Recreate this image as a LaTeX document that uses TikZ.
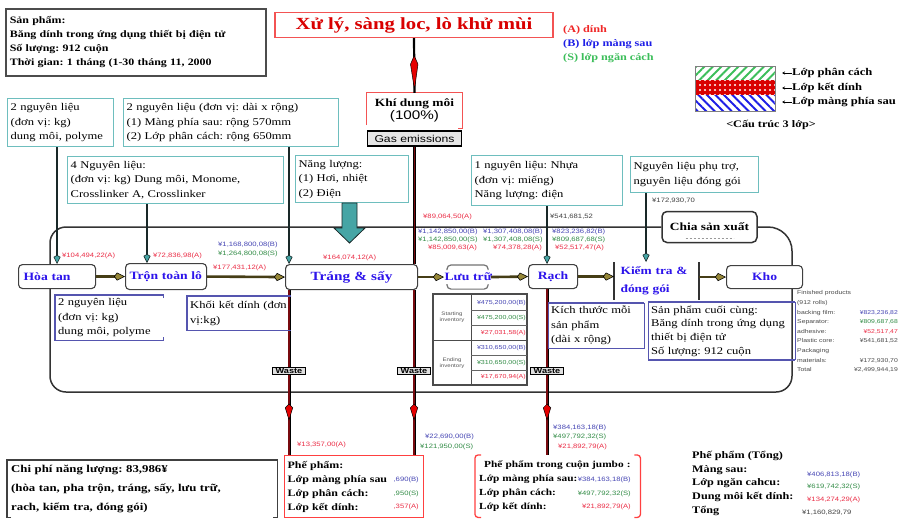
\documentclass[tikz,border=0pt]{standalone}
\usepackage{fontspec}
\setmainfont{Liberation Serif}[FakeStretch=1.22]
\newfontfamily\sansf{Liberation Sans}[FakeStretch=1.22]
\usetikzlibrary{arrows.meta,patterns.meta,calc,decorations.markings}
\pgfdeclarelayer{bg}
\pgfsetlayers{bg,main}
\definecolor{tealb}{RGB}{110,190,190}
\definecolor{numred}{RGB}{235,45,70}
\definecolor{numblue}{RGB}{70,70,180}
\definecolor{numgreen}{RGB}{50,140,70}
\definecolor{procblue}{RGB}{45,20,235}
\definecolor{olivea}{RGB}{150,135,55}
\definecolor{oliveline}{RGB}{70,62,22}
\definecolor{maroonw}{RGB}{120,10,15}
\definecolor{tealarrow}{RGB}{70,165,165}
\definecolor{darkline}{RGB}{25,40,40}
\definecolor{boxblue}{RGB}{85,85,175}
\definecolor{legred}{RGB}{240,40,40}
\definecolor{legblue}{RGB}{30,30,230}
\definecolor{leggreen}{RGB}{60,190,90}
\newcommand\mbx[1]{\mbox{#1}}
\frenchspacing
\begin{document}
\begin{tikzpicture}[x=1pt,y=-1pt,
  numr/.style={font=\sansf\fontsize{6.3}{7}\selectfont, text=numred, inner sep=0pt, anchor=west},
  numb/.style={numr, text=numblue},
  numg/.style={numr, text=numgreen},
  numk/.style={numr, text=black!75},
  inbox/.style={draw=tealb, line width=1.3pt, fill=white, anchor=north west, align=left, inner xsep=3pt, inner ysep=2pt, font=\fontsize{10.3}{14.5}\selectfont},
  plainbox/.style={anchor=north west, align=left, inner xsep=3pt, inner ysep=2pt, font=\fontsize{10.3}{14.5}\selectfont},
  proc/.style={draw=black!75, line width=1.1pt, rounded corners=4pt, fill=white, font=\bfseries\fontsize{11.2}{13}\selectfont, text=procblue, anchor=north west, align=left, inner xsep=5pt, inner ysep=0pt},
  mainarr/.style={line width=2.6pt, draw=oliveline, -{Kite[length=11pt,width=8pt,inset=3pt,fill=olivea,color=black,line width=0.6pt]}},
  inarr/.style={line width=2.8pt, draw=darkline, -{Kite[length=9pt,width=7pt,inset=2pt,fill=tealarrow,color=darkline,line width=0.6pt]}},
  wasteln/.style={draw=black, line width=3pt, postaction={draw=maroonw, line width=1.5pt}},
  wastebox/.style={draw=black, line width=1pt, fill=black!12, font=\sansf\bfseries\fontsize{7.5}{8}\selectfont, inner xsep=1.5pt, inner ysep=1.2pt, minimum width=33pt},
  loopln/.style={draw=black!80, line width=1.5pt},
  redkite/.tip={Kite[length=17pt,width=8pt,inset=4pt,fill=red!90!black,color=black,line width=0.5pt]},
  titlekite/.tip={Kite[length=36pt,width=8pt,inset=9pt,fill=red!90!black,color=black,line width=0.5pt]},
  redmark/.style={postaction={decorate}, decoration={markings, mark=at position #1 with {\arrow{redkite}}}},
  titlemark/.style={postaction={decorate}, decoration={markings, mark=at position #1 with {\arrow{titlekite}}}},
]
\useasboundingbox (0,0) rectangle (904,525);

% ---------- header ----------
\node[draw=black!70, line width=1.6pt, anchor=north west, text width=252pt, minimum height=67pt, inner xsep=4pt, align=left, font=\bfseries\fontsize{9.8}{14}\selectfont] (prod) at (5,8)
 {Sản phẩm:\\Băng dính trong ứng dụng thiết bị điện tử\\Số lượng: 912 cuộn\\Thời gian: 1 tháng (1-30 tháng 11, 2000};

\node[draw=legred!80, line width=1.1pt, minimum width=278pt, minimum height=25pt, inner sep=0pt, font=\bfseries\fontsize{17}{20}\selectfont, text=red!85!black] (title) at (414,25) {Xử lý, sàng loc, lò khử mùi};

\node[anchor=west, inner sep=0pt, font=\bfseries\fontsize{10}{11}\selectfont, text=legred] (legA) at (563,30) {(A) dính};
\node[anchor=west, inner sep=0pt, font=\bfseries\fontsize{10}{11}\selectfont, text=legblue] (legB) at (563,44) {(B) lớp màng sau};
\node[anchor=west, inner sep=0pt, font=\bfseries\fontsize{10}{11}\selectfont, text=leggreen] (legC) at (563,58) {(S) lớp ngăn cách};

% layer structure
\fill[white] (695,66) rectangle (775,80);
\fill[pattern={Lines[angle=45,distance=6pt,line width=2pt]}, pattern color=leggreen] (695,66) rectangle (775,80);
\fill[red!85!black] (695,80) rectangle (775,95);
\fill[pattern={Dots[radius=1.1pt,distance=5pt]}, pattern color=white] (695,80) rectangle (775,95);
\fill[white] (695,95) rectangle (775,111);
\fill[pattern={Lines[angle=-45,distance=6pt,line width=2pt]}, pattern color=legblue] (695,95) rectangle (775,111);
\draw[black!50, line width=1pt] (695,66) rectangle (775,111);
\node[anchor=west, inner sep=0pt, font=\bfseries\fontsize{10.3}{11}\selectfont] (lyA) at (792,73) {Lớp phân cách};
\node[anchor=west, inner sep=0pt, font=\bfseries\fontsize{10.3}{11}\selectfont] (lyB) at (792,88) {Lớp kết dính};
\node[anchor=west, inner sep=0pt, font=\bfseries\fontsize{10.3}{11}\selectfont] (lyC) at (792,102) {Lớp màng phía sau};
\foreach \n in {lyA,lyB,lyC}{\draw[line width=0.5pt, -{Stealth[length=3pt,width=3pt]}] (\n.west) -- ++(-10,0);}
\node[inner sep=0pt, font=\bfseries\fontsize{10}{11}\selectfont] (struct) at (771,125) {<Cấu trúc 3 lớp>};

% ---------- gas ----------
\node[minimum width=95pt, minimum height=35pt, inner sep=0pt, align=center] (khi) at (414.5,110.5)
 {{\bfseries\fontsize{11}{12}\selectfont Khí dung môi}\\[1pt]{\sansf\fontsize{12.5}{14}\selectfont (100\%)}};
\draw[legred!80, line width=1.1pt] ($(khi.south west)+(0,-3)$) -- (khi.north west) -- (khi.north east) -- (khi.south east) -- ++(-4,0);
\node[draw=black, line width=1.2pt, fill=black!10, minimum width=94pt, minimum height=15pt, inner sep=0pt, font=\sansf\fontsize{10}{11}\selectfont] (gas) at (414.5,138.5) {Gas emissions};
\draw[line width=2.2pt, black, titlemark=0.97] (title.south) -- (khi.north);

% ---------- input boxes ----------
\node[inbox, text width=100pt, minimum height=48pt] (inA) at (7,98) {2 nguyên liệu\\(đơn vị: kg)\\dung môi, polyme};
\node[inbox, text width=209pt, minimum height=48pt] (inB) at (123,98) {2 nguyên liệu (đơn vị: dài x rộng)\\(1) Màng phía sau: rộng 570mm\\(2) Lớp phân cách: rộng 650mm};
\node[inbox, text width=210pt, minimum height=47pt] (inC) at (67,156) {4 Nguyên liệu:\\(đơn vị: kg) Dung môi, Monome,\\Crosslinker A, Crosslinker};
\node[inbox, text width=107pt, minimum height=47pt] (inD) at (295,155) {Năng lượng:\\(1) Hơi, nhiệt\\(2) Điện};
\node[inbox, text width=145pt, minimum height=50pt] (inE) at (471,155) {1 nguyên liệu: Nhựa\\(đơn vị: miếng)\\Năng lượng: điện};
\node[inbox, text width=122pt, minimum height=36pt] (inF) at (630,156) {\mbx{Nguyên liệu phụ trợ,}\\\mbx{nguyên liệu đóng gói}};
\filldraw[fill=tealarrow, draw=darkline, line width=0.8pt] (342,203) -- (357,203) -- (357,228) -- (365,228) -- (349.5,243) -- (334,228) -- (342,228) -- cycle;

% ---------- process row ----------
\node[proc, text width=67pt, minimum height=24pt] (hoa) at (18,264) {Hòa tan};
\node[proc, text width=73pt, minimum height=26pt, inner xsep=4pt] (tron) at (125,263) {Trộn toàn lô};
\node[proc, text width=122pt, minimum height=25pt, align=center, font=\bfseries\fontsize{12.5}{14}\selectfont] (trang) at (285,264) {Tráng \& sấy};
\node[proc, draw=none, text width=46pt, minimum height=23pt, inner xsep=0pt, align=center] (luu) at (444,265) {\mbx{Lưu trữ}};
\node[proc, text width=39pt, minimum height=24pt, align=center] (rach) at (528,264) {Rạch};
\node[proc, draw=none, fill=none, text width=72pt, minimum height=37pt, inner xsep=6pt, font=\bfseries\fontsize{11}{18}\selectfont] (kiem) at (614,262) {Kiểm tra \&\\đóng gói};
\node[proc, text width=66pt, minimum height=23pt, align=center] (kho) at (726,265) {Kho};
\node[draw=black!80, line width=1.5pt, rounded corners=5pt, fill=white, minimum width=95pt, minimum height=31pt, inner sep=0pt, font=\bfseries\fontsize{11}{12}\selectfont] (chia) at (709.5,227) {Chia sản xuất};
\draw[black!40, line width=1pt, dash pattern=on 2pt off 2pt] ($(chia.south)+(-24,-5)$) -- ($(chia.south)+(24,-5)$);

\draw[black!80, line width=1.4pt] (kiem.north west) -- (kiem.south west);
\draw[black!80, line width=1.4pt] (kiem.north east) -- (kiem.south east);
\draw[black!55, line width=1.2pt, rounded corners=4pt] ($(luu.north west)+(3,5)$) -- ($(luu.north west)+(3,0)$) -- ($(luu.north east)+(-3,0)$) -- ($(luu.north east)+(-3,5)$);
\draw[black!55, line width=1.2pt, rounded corners=4pt] ($(luu.south west)+(3,-5)$) -- ($(luu.south west)+(3,0)$) -- ($(luu.south east)+(-3,0)$) -- ($(luu.south east)+(-3,-5)$);

% ---------- boxes under the row ----------
\node[plainbox, minimum width=108pt, minimum height=45pt, text width=102pt] (bG) at (55,295) {2 nguyên liệu\\(đơn vị: kg)\\dung môi, polyme};
\draw[boxblue, line width=1.1pt] ($(bG.north east)+(0,3)$) -- (bG.north east) -- (bG.north west) -- (bG.south west) -- (bG.south east) -- ($(bG.south east)+(0,-3)$);
\node[plainbox, minimum width=104pt, minimum height=34pt, text width=98pt] (bH) at (187,296) {\mbx{Khối kết dính (đơn}\\vị:kg)};
\draw[boxblue, line width=1.1pt] (bH.north east) -- (bH.north west) -- (bH.south west) -- (bH.south east);
\node[plainbox, minimum width=96pt, minimum height=45pt, text width=90pt] (bI) at (548,303) {\mbx{Kích thước mỗi}\\sản phẩm\\(dài x rộng)};
\draw[boxblue, line width=1pt] (bI.north east) -- (bI.south east) -- (bI.south west) -- (bI.north west);
\draw[boxblue, line width=2pt] (bI.north west) -- (bI.north east);
\node[plainbox, minimum width=147pt, minimum height=58pt, text width=141pt, font=\fontsize{10.3}{13.7}\selectfont] (bJ) at (648,302) {\mbx{Sản phẩm cuối cùng:}\\\mbx{Băng dính trong ứng dụng}\\thiết bị điện tử\\Số lượng: 912 cuộn};
\draw[boxblue, line width=0.8pt] (bJ.north west) -- (bJ.south west);
\draw[boxblue, line width=0.8pt] (bJ.north east) -- (bJ.south east);
\draw[boxblue, line width=2pt] (bJ.north west) -- (bJ.north east);
\draw[boxblue, line width=2pt] (bJ.south west) -- (bJ.south east);

% finished products
\node[anchor=north west, inner sep=0pt, font=\sansf\fontsize{5.6}{9.6}\selectfont, text=black!70] (fin) at (797,288)
 {\begin{tabular}{@{}l@{\hspace{3pt}}r@{}}
 Finished products & \\
 (912 rolls) & \\
 backing film: & \textcolor{numblue}{¥823,236,82}\\
 Separator: & \textcolor{numgreen}{¥809,687,68}\\
 adhesive: & \textcolor{numred}{¥52,517,47}\\
 Plastic core: & ¥541,681,52\\
 Packaging & \\
 materials: & ¥172,930,70\\
 Total & ¥2,499,944,19
 \end{tabular}};

% inventory table
\draw[black!70, line width=1.2pt] (433,294) rectangle (527,385);
\draw[black!70, line width=0.9pt] (471,294) -- (471,385);
\draw[black!70, line width=0.9pt] (433,340) -- (527,340);
\foreach \yy in {310,325,355,370}{\draw[black!60, line width=0.7pt] (471,\yy) -- (527,\yy);}
\node[align=center, inner sep=0pt, font=\sansf\fontsize{5}{6}\selectfont, text=black!65] (invS) at (452,317) {Starting\\inventory};
\node[align=center, inner sep=0pt, font=\sansf\fontsize{5}{6}\selectfont, text=black!65] (invE) at (452,363) {Ending\\inventory};
\node[numb, anchor=east, font=\sansf\fontsize{5.8}{7}\selectfont] (i1) at (526,303) {¥475,200,00(B)};
\node[numg, anchor=east, font=\sansf\fontsize{5.8}{7}\selectfont] (i2) at (526,318) {¥475,200,00(S)};
\node[numr, anchor=east, font=\sansf\fontsize{5.8}{7}\selectfont] (i3) at (526,333) {¥27,031,58(A)};
\node[numb, anchor=east, font=\sansf\fontsize{5.8}{7}\selectfont] (i4) at (526,348) {¥310,650,00(B)};
\node[numg, anchor=east, font=\sansf\fontsize{5.8}{7}\selectfont] (i5) at (526,363) {¥310,650,00(S)};
\node[numr, anchor=east, font=\sansf\fontsize{5.8}{7}\selectfont] (i6) at (526,377) {¥17,670,94(A)};

% waste boxes
\node[wastebox] (w1) at (289,371) {Waste};
\node[wastebox] (w2) at (414,371) {Waste};
\node[wastebox] (w3) at (547,371) {Waste};

% ---------- bottom boxes ----------
\node[draw=red!75, line width=1.3pt, anchor=north west, minimum width=139pt, minimum height=62pt, text width=133pt, inner xsep=3pt, align=left, font=\bfseries\fontsize{9.8}{14}\selectfont] (pp) at (284,455) {Phế phẩm:\\Lớp màng phía sau\\Lớp phân cách:\\Lớp kết dính:};
\node[numb, anchor=east] (ppB) at (419,480) {,690(B)};
\node[numg, anchor=east] (ppS) at (419,494) {,950(S)};
\node[numr, anchor=east] (ppA) at (419,507) {,357(A)};

\node[anchor=north west, minimum width=165pt, minimum height=62pt, text width=157pt, inner xsep=4pt, align=left, font=\bfseries\fontsize{9.3}{14}\selectfont] (jb) at (475,455) {\hspace*{5pt}\mbx{Phế phẩm trong cuộn jumbo :}\\Lớp màng phía sau:\\Lớp phân cách:\\Lớp kết dính:};
\draw[red!75, line width=1.3pt, rounded corners=3pt] ($(jb.north west)+(6,0)$) -- (jb.north west) -- (jb.south west) -- ($(jb.south west)+(6,0)$);
\draw[red!75, line width=1.3pt, rounded corners=3pt] ($(jb.north east)+(-6,0)$) -- (jb.north east) -- (jb.south east) -- ($(jb.south east)+(-6,0)$);
\node[numb, anchor=east] (jbB) at (631,480) {¥384,163,18(B)};
\node[numg, anchor=east] (jbS) at (631,494) {¥497,792,32(S)};
\node[numr, anchor=east] (jbA) at (631,507) {¥21,892,79(A)};

\node[anchor=north west, minimum width=270pt, minimum height=57pt, text width=262pt, inner xsep=4pt, align=left, font=\bfseries\fontsize{10.5}{19}\selectfont] (chi) at (7,460) {Chi phí năng lượng: 83,986¥\\(hòa tan, pha trộn, tráng, sấy, lưu trữ,\\rach, kiểm tra, đóng gói)};
\draw[black!75, line width=1.3pt] ($(chi.south west)+(4,0)$) -- (chi.south west) -- (chi.north west) -- (chi.north east) -- (chi.south east) -- ($(chi.south east)+(-4,0)$);

\node[anchor=north west, align=left, inner sep=0pt, font=\bfseries\fontsize{10}{13.7}\selectfont] (tong) at (692,451) {Phế phẩm (Tổng)\\Màng sau:\\Lớp ngăn cahcu:\\Dung môi kết dính:\\Tổng};
\node[numb] (tB) at (807,475) {¥406,813,18(B)};
\node[numg] (tS) at (807,487) {¥619,742,32(S)};
\node[numr] (tA) at (807,500) {¥134,274,29(A)};
\node[numk] (tT) at (802,513) {¥1,160,829,79};

% ---------- cost labels ----------
\node[numr] (c1) at (62,256) {¥104,494,22(A)};
\node[numr] (c2) at (153,256) {¥72,836,98(A)};
\node[numb] (c3) at (218,245) {¥1,168,800,08(B)};
\node[numg] (c4) at (218,254) {¥1,264,800,08(S)};
\node[numr] (c5) at (213,268) {¥177,431,12(A)};
\node[numr] (c6) at (323,258) {¥164,074,12(A)};
\node[numr] (c7) at (423,217) {¥89,064,50(A)};
\node[numk] (c8) at (550,217) {¥541,681,52};
\node[numb] (c9) at (418,232) {¥1,142,850,00(B)};
\node[numg] (c10) at (418,240) {¥1,142,850,00(S)};
\node[numr] (c11) at (428,248) {¥85,009,63(A)};
\node[numb] (c12) at (483,232) {¥1,307,408,08(B)};
\node[numg] (c13) at (483,240) {¥1,307,408,08(S)};
\node[numr] (c14) at (493,248) {¥74,378,28(A)};
\node[numb] (c15) at (552,232) {¥823,236,82(B)};
\node[numg] (c16) at (552,240) {¥809,687,68(S)};
\node[numr] (c17) at (555,248) {¥52,517,47(A)};
\node[numk] (c18) at (652,201) {¥172,930,70};
\node[numr] (c19) at (297,445) {¥13,357,00(A)};
\node[numb] (c20) at (425,437) {¥22,690,00(B)};
\node[numg] (c21) at (420,447) {¥121,950,00(S)};
\node[numb] (c22) at (553,428) {¥384,163,18(B)};
\node[numg] (c23) at (553,437) {¥497,792,32(S)};
\node[numr] (c24) at (558,447) {¥21,892,79(A)};

% ---------- connectors ----------
\coordinate (rt) at (792,0);
\coordinate (cx) at (147,0);
\coordinate (fx) at (646,0);
\begin{pgfonlayer}{bg}
 \fill[white] (0,0) rectangle (904,525);
 \draw[loopln, rounded corners=16pt] (kho.south -| rt) -- (792,392) -- (50,392) -- (50,227) -- (chia.west);
 \draw[loopln, rounded corners=24pt] (chia.east) -- (792,227) -- (kho.north -| rt);
 \draw[wasteln] (gas.south) -- (gas.south |- trang.north);
 \draw[wasteln] (w1.north |- trang.south) -- (w1.north);
 \draw[wasteln] (w2.north |- trang.south) -- (w2.north);
 \draw[wasteln] (w3.north |- rach.south) -- (w3.north);
 \draw[wasteln] (w1.south) -- (w1.south |- pp.north);
 \draw[wasteln] (w2.south) -- (w2.south |- pp.north);
 \draw[wasteln] (w3.south) -- (w3.south |- jb.north);
\end{pgfonlayer}
\path[redmark=0.57] (w1.south) -- (w1.south |- pp.north);
\path[redmark=0.57] (w2.south) -- (w2.south |- pp.north);
\path[redmark=0.57] (w3.south) -- (w3.south |- jb.north);

\draw[inarr] (hoa.north |- inA.south) -- (hoa.north);
\draw[inarr] (cx |- inC.south) -- (cx |- tron.north);
\draw[inarr] (w1 |- inB.south) -- (w1 |- trang.north);
\draw[inarr] (w3 |- inE.south) -- (w3 |- rach.north);
\draw[inarr] (fx |- inF.south) -- (fx |- kiem.north);

\draw[mainarr] (hoa.east) -- (tron.west);
\draw[mainarr] (tron.east) -- (trang.west);
\draw[mainarr] (trang.east) -- (luu.west);
\draw[mainarr] (luu.east) -- (rach.west);
\draw[mainarr] (rach.east) -- (rach.east -| kiem.west);
\draw[mainarr] (kiem.east |- kho.west) -- (kho.west);
\end{tikzpicture}
\end{document}
